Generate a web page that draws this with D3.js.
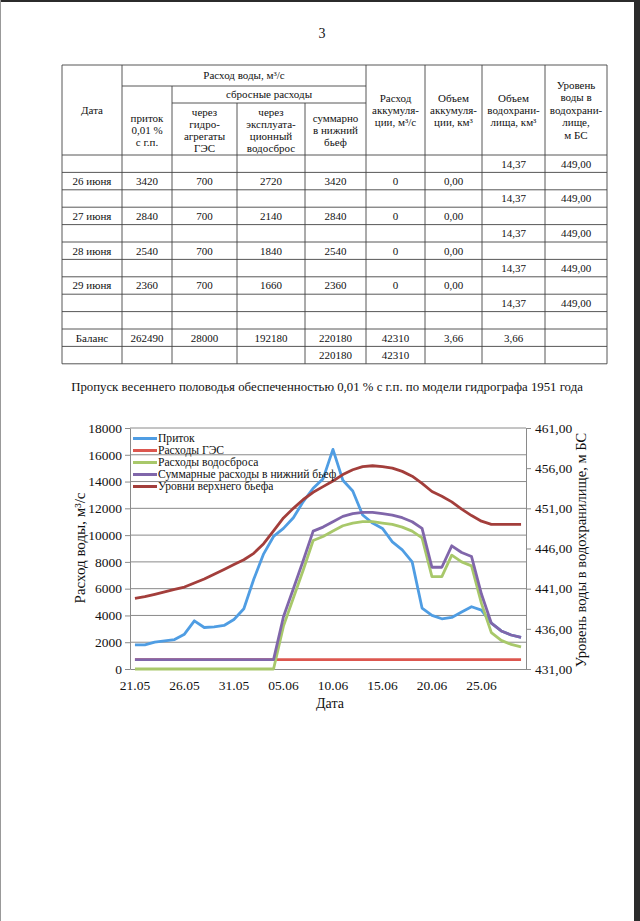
<!DOCTYPE html>
<html><head><meta charset="utf-8">
<script src="https://cdn.jsdelivr.net/npm/d3@7"></script>
<style>
html,body{margin:0;padding:0;background:#fff;}
svg{display:block;}
text{font-family:"Liberation Serif","Times New Roman",serif;fill:#111;}
</style></head>
<body>
<svg id="page" width="640" height="921" font-family="Liberation Serif, serif"></svg>
<script>
// ---------------- DATA ----------------
const dates = ["21.05","22.05","23.05","24.05","25.05","26.05","27.05","28.05","29.05","30.05",
  "31.05","01.06","02.06","03.06","04.06","05.06","06.06","07.06","08.06","09.06",
  "10.06","11.06","12.06","13.06","14.06","15.06","16.06","17.06","18.06","19.06",
  "20.06","21.06","22.06","23.06","24.06","25.06","26.06","27.06","28.06","29.06"];
const tickDates = ["21.05","26.05","31.05","05.06","10.06","15.06","20.06","25.06"];
const inflow = [1800,1800,2000,2100,2200,2600,3600,3100,3150,3250,
  3700,4500,6700,8600,9900,10500,11300,12500,13500,14200,
  16400,14100,13300,11500,10900,10500,9500,8900,8000,4550,
  4000,3750,3850,4250,4650,4400,3420,2840,2540,2360];
const hppFlow = [700,700,700,700,700,700,700,700,700,700,
  700,700,700,700,700,700,700,700,700,700,
  700,700,700,700,700,700,700,700,700,700,
  700,700,700,700,700,700,700,700,700,700];
const spillFlow = [0,0,0,0,0,0,0,0,0,0,
  0,0,0,0,0,3200,5300,7400,9600,9900,
  10300,10700,10900,11000,11000,10900,10800,10600,10300,9800,
  6900,6900,8500,8000,7700,4900,2720,2140,1840,1660];
const totalFlow = [700,700,700,700,700,700,700,700,700,700,
  700,700,700,700,700,3900,6000,8100,10300,10600,
  11000,11400,11600,11700,11700,11600,11500,11300,11000,10500,
  7600,7600,9200,8700,8400,5600,3420,2840,2540,2360];
const upperLevel = [439.8,440.0,440.3,440.6,440.9,441.2,441.7,442.2,442.8,443.4,
  444.0,444.6,445.4,446.6,448.2,449.8,451.0,452.1,453.0,453.7,
  454.4,455.2,455.8,456.2,456.3,456.2,456.0,455.6,455.0,454.1,
  453.1,452.5,451.8,450.9,450.1,449.4,449.0,449.0,449.0,449.0];
const flowTicks = [0,2000,4000,6000,8000,10000,12000,14000,16000,18000];
const levelTicks = [431,436,441,446,451,456,461];
const seriesNames = ["Приток","Расходы ГЭС","Расходы водосброса","Суммарные расходы в нижний бьеф","Уровни верхнего бьефа"];
const seriesColors = ["#4f9de3","#dc574f","#a8c86a","#8066aa","#a33e3b"];

// table data
const tableDays = ["26 июня","27 июня","28 июня","29 июня"];
const tableInflow = [3420,2840,2540,2360];
const tableHpp = [700,700,700,700];
const tableSpill = [2720,2140,1840,1660];
const tableTotal = [3420,2840,2540,2360];
const tableAccum = [0,0,0,0];
const tableAccumVol = ["0,00","0,00","0,00","0,00"];
const tableVolume = "14,37";
const tableLevel = "449,00";
const balanceRow = ["Баланс","262490","28000","192180","220180","42310","3,66","3,66",""];
const lastRow = ["","","","","220180","42310","","",""];

// ---------------- PAGE ----------------
const svg = d3.select("#page");
svg.append("rect").attr("x",0).attr("y",0).attr("width",640).attr("height",921).attr("fill","#fff");
svg.append("rect").attr("x",0).attr("y",0).attr("width",640).attr("height",2).attr("fill","#2b2b2b");
svg.append("rect").attr("x",634).attr("y",0).attr("width",6).attr("height",921).attr("fill","#2b2b2b");
svg.append("rect").attr("x",0).attr("y",0).attr("width",1).attr("height",921).attr("fill","#999");

svg.append("text").attr("x",322).attr("y",38).attr("text-anchor","middle")
  .style("font-size","14px").text("3");

// ---------------- TABLE ----------------
const cx = [62,122,172,237,305,366,425,482,545,607];
const tTop = 65, hdr1 = 86, hdr2 = 103, hdrB = 155, rowH = 17.4, nRows = 12;
const tBottom = hdrB + rowH*nRows;
const tg = svg.append("g").attr("stroke","#444").attr("stroke-width",0.9);
function hl(x1,x2,yy){tg.append("line").attr("x1",x1).attr("x2",x2).attr("y1",yy).attr("y2",yy);}
function vl(xx,y1,y2){tg.append("line").attr("x1",xx).attr("x2",xx).attr("y1",y1).attr("y2",y2);}
hl(cx[0],cx[9],tTop); hl(cx[1],cx[5],hdr1); hl(cx[2],cx[5],hdr2);
for(let r=0;r<=nRows;r++) hl(cx[0],cx[9],hdrB+r*rowH);
vl(cx[0],tTop,tBottom); vl(cx[1],tTop,tBottom); vl(cx[2],hdr1,tBottom);
vl(cx[3],hdr2,tBottom); vl(cx[4],hdr2,tBottom);
vl(cx[5],tTop,tBottom); vl(cx[6],tTop,tBottom); vl(cx[7],tTop,tBottom); vl(cx[8],tTop,tBottom); vl(cx[9],tTop,tBottom);

const tt = svg.append("g").style("font-size","11px").attr("text-anchor","middle");
function cellLines(c1,c2,yc,lines,lh){
  const xm=(cx[c1]+cx[c2])/2, n=lines.length;
  lines.forEach((s,i)=>{
    tt.append("text").attr("x",xm).attr("y",yc+(i-(n-1)/2)*lh).attr("dy","0.35em").text(s);
  });
}
cellLines(0,1,110,["Дата"],12);
cellLines(1,5,75.5,["Расход воды, м³/с"],12);
cellLines(2,5,94.5,["сбросные расходы"],12);
cellLines(1,2,130,["приток","0,01 %","с г.п."],11.8);
cellLines(2,3,130,["через","гидро-","агрегаты","ГЭС"],11.8);
cellLines(3,4,130,["через","эксплуата-","ционный","водосброс"],11.8);
cellLines(4,5,130,["суммарно","в нижний","бьеф"],11.8);
cellLines(5,6,110,["Расход","аккумуля-","ции, м³/с"],12.3);
cellLines(6,7,110,["Объем","аккумуля-","ции, км³"],12.3);
cellLines(7,8,110,["Объем","водохрани-","лища, км³"],12.3);
cellLines(8,9,110,["Уровень","воды в","водохрани-","лище,","м БС"],12.4);

function rowCells(r,vals){
  const yc = hdrB + (r+0.5)*rowH;
  vals.forEach((v,i)=>{ if(v!=="" && v!==null) cellLines(i,i+1,yc,[String(v)],12); });
}
for(let k=0;k<5;k++) rowCells(2*k,["","","","","","","",tableVolume,tableLevel]);
tableDays.forEach((d,k)=>{
  rowCells(2*k+1,[d,tableInflow[k],tableHpp[k],tableSpill[k],tableTotal[k],tableAccum[k],tableAccumVol[k],"",""]);
});
rowCells(10,balanceRow);
rowCells(11,lastRow);

svg.append("text").attr("x",327).attr("y",391).attr("text-anchor","middle")
  .style("font-size","12.8px")
  .text("Пропуск весеннего половодья обеспеченностью 0,01 % с г.п. по модели гидрографа 1951 года");

// ---------------- CHART ----------------
const L=130, R=526, T=428, B=669;
const x = d3.scaleBand().domain(dates).range([L,R]).padding(0);
const xc = d => x(d) + x.bandwidth()/2;
const y = d3.scaleLinear().domain([0,18000]).range([B,T]);
const yR = d3.scaleLinear().domain([431,461]).range([B,T]);
const axisColor = "#8a8a8a";

const cg = svg.append("g");
cg.append("g").selectAll("line").data(flowTicks.filter(v=>v>0)).join("line")
  .attr("x1",L).attr("x2",R).attr("y1",d=>y(d)).attr("y2",d=>y(d))
  .attr("stroke",axisColor).attr("stroke-width",1);

const axL = cg.append("g").attr("transform",`translate(${L},0)`)
  .call(d3.axisLeft(y).tickValues(flowTicks).tickSize(5).tickSizeOuter(0).tickPadding(3).tickFormat(d=>String(d)));
const axR = cg.append("g").attr("transform",`translate(${R},0)`)
  .call(d3.axisRight(yR).tickValues(levelTicks).tickSize(5).tickSizeOuter(0).tickPadding(4).tickFormat(d=>d3.format(".2f")(d).replace(".",",")));
const axB = cg.append("g").attr("transform",`translate(0,${B})`)
  .call(d3.axisBottom(x).tickValues(tickDates).tickSize(0).tickSizeOuter(0).tickPadding(11));
[axL,axR,axB].forEach(a=>{
  a.attr("font-family","Liberation Serif, serif");
  a.select(".domain").attr("stroke",axisColor).attr("stroke-width",1);
  a.selectAll(".tick line").attr("stroke",axisColor);
  a.selectAll("text").style("font-family","'Liberation Serif',serif").style("font-size","13.5px").attr("fill","#111");
});

const flowLine = d3.line().x((d,i)=>xc(dates[i])).y(d=>y(d));
const levelLine = d3.line().x((d,i)=>xc(dates[i])).y(d=>yR(d));
const seriesData = [inflow,hppFlow,spillFlow,totalFlow];
seriesData.forEach((s,k)=>{
  cg.append("path").datum(s).attr("d",flowLine).attr("fill","none")
    .attr("stroke",seriesColors[k]).attr("stroke-width",2.8).attr("stroke-linejoin","round");
});
cg.append("path").datum(upperLevel).attr("d",levelLine).attr("fill","none")
  .attr("stroke",seriesColors[4]).attr("stroke-width",2.8).attr("stroke-linejoin","round");

const lg = cg.append("g");
seriesNames.forEach((n,k)=>{
  const yy = 438.5 + k*12;
  lg.append("line").attr("x1",133).attr("x2",157).attr("y1",yy).attr("y2",yy)
    .attr("stroke",seriesColors[k]).attr("stroke-width",3);
  lg.append("text").attr("x",158).attr("y",yy).attr("dy","0.33em").style("font-size","11.6px").text(n);
});

svg.append("text").attr("transform","translate(85,548) rotate(-90)").attr("text-anchor","middle")
  .style("font-size","15px").text("Расход воды, м³/с");
svg.append("text").attr("transform","translate(586,550) rotate(-90)").attr("text-anchor","middle")
  .style("font-size","14.5px").text("Уровень воды в водохранилище,  м БС");
svg.append("text").attr("x",330).attr("y",708).attr("text-anchor","middle")
  .style("font-size","14px").text("Дата");
</script>
</body></html>
